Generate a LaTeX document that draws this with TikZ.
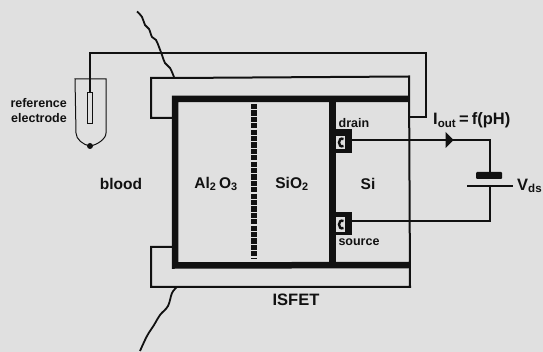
\documentclass[tikz,border=0pt]{standalone}
\usepackage{fontspec}
\setmainfont{Liberation Sans}
\definecolor{bgc}{HTML}{E0E0E0}
\definecolor{ink}{HTML}{111111}
\tikzset{
  x=1pt,y=-1pt,
  thickwall/.style={draw=ink,line width=6.5pt,line cap=butt,line join=miter},
  casing/.style={draw=ink,line width=2pt,line join=miter},
  wire/.style={draw=ink,line width=2pt,line join=miter},
  thinline/.style={draw=ink,line width=1pt},
  wavy/.style={draw=ink,line width=1.8pt},
  lab/.style={inner sep=0pt,text=ink,font=\fontsize{15.5}{15.5}\selectfont\bfseries},
  biglab/.style={inner sep=0pt,text=ink,font=\fontsize{16.5}{16.5}\selectfont\bfseries},
  smalllab/.style={inner sep=0pt,text=ink,font=\fontsize{12.5}{15}\selectfont\bfseries},
  contactbox/.style={fill=ink,draw=none},
  contacthole/.style={fill=bgc,draw=none},
  contactc/.style={draw=ink,line width=2.4pt},
}
\begin{document}
\begin{tikzpicture}
\useasboundingbox[fill=bgc] (0,0) rectangle (543,352);
% coordinates
\coordinate (elecTop) at (90,93);
\coordinate (drainEnd) at (352,140);
\coordinate (sourceEnd) at (352,221);
\coordinate (batTop) at (490,172);
\coordinate (batBot) at (490,186);
\coordinate (casingSide) at (409,117);
% casing
\draw[casing] (172,118) -- (151,118) -- (151,78) -- (175,78) -- (409,76.5) -- (410,287) -- (151,287) -- (151,247) -- (172,247);
% thick walls
\draw[thickwall] (409,99) -- (175,99) -- (175,265.5) -- (409,265);
\draw[thickwall] (332.5,99) -- (332.5,265);
% dotted membrane
\draw[draw=ink,line width=6pt,dash pattern=on 5.3pt off 1.1pt] (254,104) -- (254,259);
% wavy lines
\draw[wavy] plot[smooth,tension=0.6] coordinates {(137,11.5)(142,17)(145,25)(149,29)(152,37)(156,40)(159,47)(162,55)(165,63)(170,68)(174,77)};
\draw[wavy] plot[smooth,tension=0.6] coordinates {(177,287)(172,293)(168,306)(160,315)(154,325)(147,336)(140,351)};
% electrode
\draw[thinline] (75,79) -- (106,79) -- (106,133) .. controls (106,139) and (97,145) .. (90,146) .. controls (83,145) and (76,139) .. (76,133) -- cycle;
\draw[thinline] (87.5,93) rectangle (92.8,124);
\fill[ink] (90,146) circle (3pt);
% reference wire
\draw[wire] (elecTop) -- (90,53) -- (426,53) -- (426,117) -- (casingSide);
% contacts
\fill[contactbox] (336,129) rectangle (352,153);
\fill[contacthole] (336,136) rectangle (344.5,149.5);
\draw[contactc] (343.5,139) .. controls (337.5,136.5) and (337.5,148.5) .. (343.5,146);
\fill[contactbox] (336,212) rectangle (352,235);
\fill[contacthole] (336,217) rectangle (344.5,232);
\draw[contactc] (343.5,221) .. controls (337.5,218.5) and (337.5,230.5) .. (343.5,228);
% circuit
\draw[wire] (drainEnd) -- (490,140) -- (batTop);
\draw[wire] (batBot) -- (490,221) -- (sourceEnd);
\fill[ink] (445.5,132) -- (453.5,140) -- (445.5,148) -- cycle;
\fill[ink,rounded corners=1pt] (476,172) rectangle (502,179);
\draw[draw=ink,line width=2.6pt] (467,186) -- (513,186);
% labels
\node[smalllab,align=right,anchor=east] (refel) at (67,110.5) {reference\\electrode};
\node[lab,anchor=center] (blood) at (121,184) {blood};
\node[lab,anchor=center] (alox) at (216,184) {Al\textsubscript{2}\,O\textsubscript{3}};
\node[lab,anchor=center] (siox) at (292,184) {SiO\textsubscript{2}};
\node[lab,anchor=center] (si) at (368,184) {Si};
\node[smalllab,anchor=center] (drainlab) at (354,123) {drain};
\node[smalllab,anchor=center] (sourcelab) at (359,242) {source};
\node[biglab,anchor=center] (isfet) at (296,300) {ISFET};
\node[biglab,anchor=west] (iout) at (433,120.5) {I\textsubscript{out}\hspace{3pt}=\hspace{3pt}f(pH)};
\node[biglab,anchor=west] (vds) at (517,186) {V\textsubscript{ds}};
\end{tikzpicture}
\end{document}
